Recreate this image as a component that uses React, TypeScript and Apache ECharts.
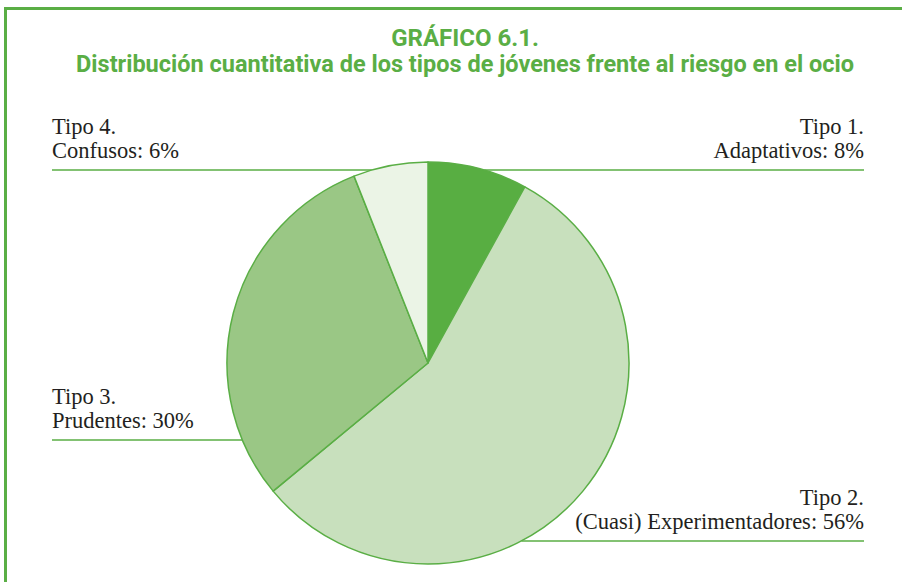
import React, { useEffect, useRef } from 'react';
import * as echarts from 'echarts';

const titleText = 'GRÁFICO 6.1.';
const subtitleText = 'Distribución cuantitativa de los tipos de jóvenes frente al riesgo en el ocio';
const typeLabels = ['Tipo 1.', 'Tipo 2.', 'Tipo 3.', 'Tipo 4.'];
const typeNames = ['Adaptativos', '(Cuasi) Experimentadores', 'Prudentes', 'Confusos'];
const shares = [8, 56, 30, 6];
const sliceColors = ['#58ae42', '#c8e0bd', '#9ac785', '#ebf4e6'];

const GREEN = '#5aae45';
const CX = 428;
const CY = 363;
const R = 201;
const labelAnchors = [
  { x: 864, lineY: 170, side: 'right' },
  { x: 864, lineY: 541, side: 'right' },
  { x: 52, lineY: 440, side: 'left' },
  { x: 52, lineY: 170, side: 'left' },
];

export default function App() {
  const ref = useRef<HTMLDivElement>(null);
  useEffect(() => {
    if (!ref.current) return;
    const chart = echarts.init(ref.current, undefined, { renderer: 'svg' });
    const data = shares.map((v, i) => ({
      value: v,
      name: typeNames[i],
      itemStyle: { color: sliceColors[i] },
    }));
    chart.setOption({
      animation: false,
      backgroundColor: '#ffffff',
      title: {
        text: titleText,
        subtext: subtitleText,
        left: 460,
        top: 21,
        textAlign: 'center',
        itemGap: 2,
        textStyle: {
          color: GREEN,
          fontFamily: 'Roboto, sans-serif',
          fontWeight: 'bold',
          fontSize: 24,
        },
        subtextStyle: {
          color: GREEN,
          fontFamily: 'Roboto, sans-serif',
          fontWeight: 'bold',
          fontSize: 23.5,
        },
      },
      graphic: [
        { type: 'rect', shape: { x: 4, y: 7, width: 898, height: 3 }, style: { fill: GREEN } },
        { type: 'rect', shape: { x: 4, y: 7, width: 3, height: 575 }, style: { fill: GREEN } },
      ],
      series: [
        {
          type: 'pie',
          center: [CX, CY],
          radius: R,
          startAngle: 90,
          clockwise: true,
          avoidLabelOverlap: false,
          data,
          itemStyle: { borderColor: GREEN, borderWidth: 1.5 },
          label: {
            show: true,
            position: 'outside',
            formatter: (p: any) => `${typeLabels[p.dataIndex]}\n${typeNames[p.dataIndex]}: ${shares[p.dataIndex]}%`,
            fontFamily: "'Liberation Serif', 'Times New Roman', serif",
            fontSize: 22.5,
            lineHeight: 24,
            color: '#231f20',
          },
          labelLine: {
            show: true,
            length: 10,
            length2: 10,
            smooth: false,
            lineStyle: { color: GREEN, width: 1.5 },
          },
          labelLayout: (params: any) => {
            const a = labelAnchors[params.dataIndex];
            const dy = a.lineY - CY;
            const half = Math.sqrt(Math.max(0, R * R - dy * dy));
            const edgeX = a.side === 'right' ? CX + half : CX - half;
            return {
              x: a.x,
              y: a.lineY - 8,
              align: a.side,
              verticalAlign: 'bottom',
              labelLinePoints: [
                [edgeX, a.lineY],
                [edgeX, a.lineY],
                [a.x, a.lineY],
              ],
            };
          },
          emphasis: { disabled: true },
        },
      ],
    });
    return () => chart.dispose();
  }, []);
  return <div ref={ref} style={{ position: 'fixed', left: 0, top: 0, width: 902, height: 582 }} />;
}
